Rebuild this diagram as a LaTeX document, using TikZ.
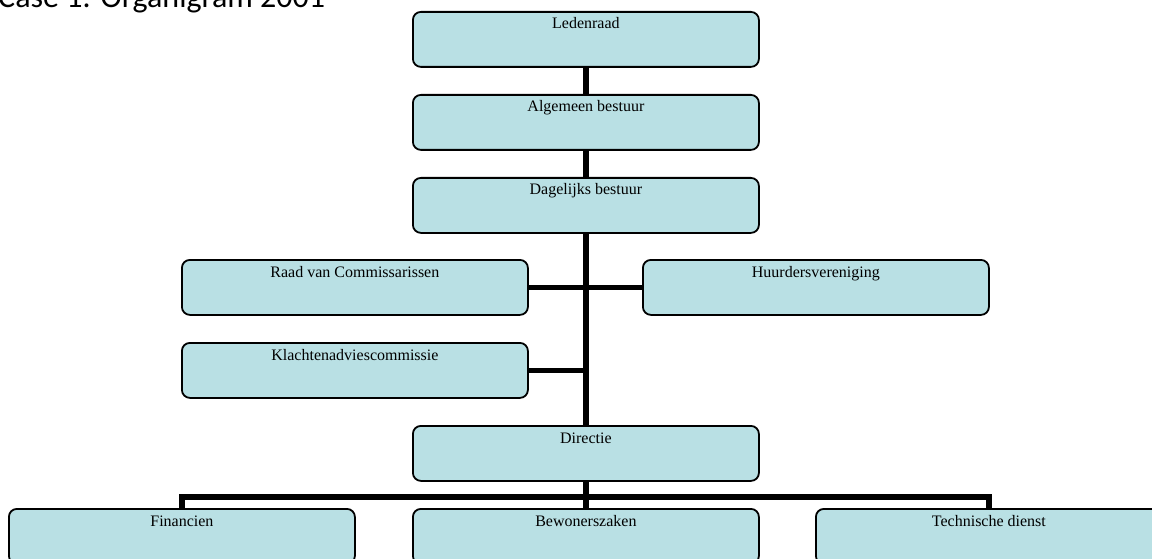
\documentclass[tikz,border=0pt]{standalone}
\usepackage{fontspec}
\setmainfont{Liberation Serif}
\newfontfamily\titlefont{Carlito}
\usetikzlibrary{backgrounds}
\definecolor{boxfill}{RGB}{185,224,228}

\begin{document}
\begin{tikzpicture}[x=1pt, y=-1pt,
  unit/.style={draw=black, line width=1.8pt, fill=boxfill, rounded corners=8pt,
    minimum width=346pt, minimum height=55pt, inner sep=0pt, anchor=north west,
    label={[anchor=base, yshift=-18pt, font=\fontsize{16}{19}\selectfont, inner sep=0pt]north:#1}},
  conn/.style={line width=5.5pt, line join=miter}]
\useasboundingbox (0,0) rectangle (1152,559);
\clip (0,0) rectangle (1152,559);

% heading
\node[anchor=base west, inner sep=0pt, font=\titlefont\fontsize{32}{38}\selectfont] (title) at (-2,8) {Case 1: Organigram 2001};

% main column
\node[unit=Ledenraad] (led) at (412,11) {};
\node[unit=Algemeen bestuur] (alg) at (412,94) {};
\node[unit=Dagelijks bestuur] (dag) at (412,177) {};
\node[unit=Directie] (dir) at (412,425) {};

% side bodies
\node[unit=Raad van Commissarissen] (raad) at (181,259) {};
\node[unit=Huurdersvereniging] (huur) at (642,259) {};
\node[unit=Klachtenadviescommissie] (klacht) at (181,342) {};

% departments
\node[unit=Financien] (fin) at (8,508) {};
\node[unit=Bewonerszaken] (bew) at (412,508) {};
\node[unit=Technische dienst] (tech) at (815,508) {};

\coordinate (bar) at (585,497);

\begin{pgfonlayer}{background}
  \draw[conn] (led.south) -- (alg.north);
  \draw[conn] (alg.south) -- (dag.north);
  \draw[conn] (dag.south) -- (dir.north);
  \draw[conn] (raad.east) -- (raad.east -| dag.south);
  \draw[conn] (huur.west) -- (huur.west -| dag.south);
  \draw[conn] (klacht.east) -- (klacht.east -| dag.south);
  \draw[conn] (dir.south) -- (bew.north);
  \draw[conn] (fin.north) |- (bar) -| (tech.north);
\end{pgfonlayer}
\end{tikzpicture}
\end{document}
